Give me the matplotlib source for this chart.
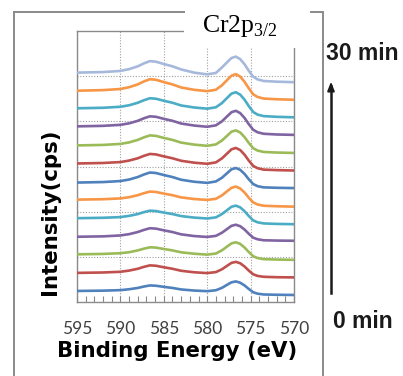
import matplotlib
matplotlib.use("Agg")
import matplotlib.pyplot as plt
from matplotlib.lines import Line2D
from matplotlib.patches import Rectangle

# Binding energy grid (eV)
energy = [595, 592, 590, 589, 588, 587.3, 586.6, 585.9, 585, 584, 583, 581.5, 580,
          579, 578.3, 577.7, 577.2, 576.7, 576.2, 575.7, 575.2, 574.7, 574.2, 573.5, 572, 570]

# Stacked Cr2p spectra (arbitrary intensity units, offset), 0 min (bottom) ... 30 min (top)
s01 = [11, 11.3, 11.8, 12.7, 14.0, 15.4, 16.5, 16.2, 15.1, 14.0, 12.5, 11.4, 10.8,
       11.7, 14.1, 17.2, 19.6, 20.5, 19.2, 16.5, 12.9, 9.7, 8.3, 7.5, 7.2, 7.0]
s02 = [29, 29.4, 30.1, 31.3, 33.1, 35.0, 36.5, 36.1, 34.6, 33.1, 31.1, 29.6, 28.8,
       29.8, 32.6, 36.1, 39.0, 40.0, 38.6, 35.4, 31.2, 27.6, 26.0, 25.1, 24.7, 24.5]
s03 = [47.5, 47.9, 48.6, 49.6, 51.4, 53.1, 54.5, 54.2, 52.8, 51.4, 49.5, 48.1, 47.2,
       48.3, 51.5, 55.3, 58.4, 59.5, 57.9, 54.3, 49.7, 45.6, 43.8, 42.7, 42.3, 42.0]
s04 = [65, 65.4, 66.3, 67.6, 69.7, 71.8, 73.5, 73.1, 71.4, 69.7, 67.4, 65.7, 64.8,
       65.9, 69.0, 72.8, 75.9, 77.0, 75.5, 72.2, 67.9, 64.1, 62.5, 61.5, 61.2, 61.0]
s05 = [83.5, 83.9, 84.6, 85.8, 87.6, 89.5, 91.0, 90.6, 89.1, 87.6, 85.6, 84.1, 83.2,
       84.3, 87.6, 91.6, 94.9, 96.0, 94.3, 90.5, 85.6, 81.3, 79.4, 78.3, 77.8, 77.5]
s06 = [102, 102.4, 103.2, 104.4, 106.4, 108.4, 110.0, 109.6, 108.0, 106.4, 104.2, 102.6, 101.7,
       102.8, 106.2, 110.4, 113.8, 115.0, 113.1, 109.1, 103.8, 99.2, 97.2, 95.9, 95.4, 95.0]
s07 = [119, 119.5, 120.5, 122.0, 124.5, 127.0, 129.0, 128.5, 126.5, 124.5, 121.8, 119.8, 118.7,
       120.1, 123.8, 128.4, 132.2, 133.5, 131.7, 127.6, 122.2, 117.5, 115.4, 114.2, 113.8, 113.5]
s08 = [138, 138.5, 139.4, 140.9, 143.2, 145.6, 147.5, 147.0, 145.1, 143.2, 140.7, 138.8, 137.7,
       139.1, 143.1, 148.0, 152.1, 153.5, 151.4, 146.8, 140.8, 135.6, 133.3, 131.9, 131.4, 131.0]
s09 = [156, 156.5, 157.5, 159.0, 161.5, 164.0, 166.0, 165.5, 163.5, 161.5, 158.8, 156.8, 155.6,
       157.0, 160.9, 165.7, 169.7, 171.0, 168.9, 164.3, 158.4, 153.2, 150.9, 149.5, 148.9, 148.5]
s10 = [175, 175.5, 176.5, 178.0, 180.5, 183.0, 185.0, 184.5, 182.5, 180.5, 177.8, 175.8, 174.6,
       176.0, 180.0, 185.0, 189.1, 190.5, 188.2, 183.4, 177.1, 171.6, 169.1, 167.6, 166.9, 166.5]
s11 = [193, 193.5, 194.5, 196.0, 198.5, 201.0, 203.0, 202.5, 200.5, 198.5, 195.8, 193.8, 192.6,
       194.0, 198.2, 203.4, 207.6, 209.0, 206.6, 201.6, 195.1, 189.3, 186.7, 185.2, 184.5, 184.0]
s12 = [210.5, 211.1, 212.2, 214.0, 216.8, 219.7, 222.0, 221.4, 219.1, 216.8, 213.7, 211.4, 210.1,
       211.5, 215.9, 221.2, 225.5, 227.0, 224.6, 219.4, 212.8, 206.9, 204.3, 202.7, 202.0, 201.5]
s13 = [228.5, 229.1, 230.2, 232.0, 234.8, 237.7, 240.0, 239.4, 237.1, 234.8, 231.7, 228.5, 226.8,
       228.2, 233.7, 238.9, 243.1, 244.5, 242.0, 236.9, 230.3, 224.5, 221.8, 220.2, 219.5, 219.0]
spectra = [s01, s02, s03, s04, s05, s06, s07, s08, s09, s10, s11, s12, s13]

colors = ["#4F81BD", "#C0504D", "#9BBB59", "#8064A2", "#4BACC6", "#F79646",
          "#4F81BD", "#C0504D", "#9BBB59", "#8064A2", "#4BACC6", "#F79646", "#A6B9DC"]

xticks = [595, 590, 585, 580, 575, 570]
xtick_labels = ["595", "590", "585", "580", "575", "570"]

W, H = 403, 376
fig = plt.figure(figsize=(W / 100, H / 100), dpi=100)

def fx(px):
    return px / W

def fy(py):
    return 1 - py / H

ax = fig.add_axes([fx(77), fy(302), fx(294) - fx(77), fy(31) - fy(302)])
for s, c in zip(spectra, colors):
    ax.plot(energy, s, color=c, lw=1.9, solid_joinstyle="round", solid_capstyle="butt", zorder=3)

ax.set_xlim(595, 570)
ax.set_ylim(0, 270)
ax.set_xticks(xticks)
ax.set_xticklabels(xtick_labels, fontfamily="Lato", fontsize=12.5, color="#404040")
ax.set_xticks(list(range(570, 596)), minor=True)
ax.set_yticks([45, 90, 135, 180, 225])
ax.set_yticklabels([])
ax.tick_params(axis="y", length=0)
ax.tick_params(axis="x", which="both", direction="in", length=4, width=0.8, color="#888888", pad=14)
ax.grid(True, which="major", ls=(0, (1, 1.5)), color="#A0A0A0", lw=0.8, zorder=0)
for sp in ax.spines.values():
    sp.set_color("#8A8A8A")
    sp.set_linewidth(1.0)

fig.text(fx(177), fy(357), "Binding Energy (eV)", fontfamily="DejaVu Sans", fontweight="bold",
         fontsize=15.3, ha="center", va="baseline")
fig.text(fx(56), fy(212), "Intensity(cps)", fontfamily="DejaVu Sans", fontweight="bold",
         fontsize=15.3, ha="center", va="baseline", rotation=90, rotation_mode="anchor")

# outer frame
frame_c = "#8A8A8A"
fig.add_artist(Line2D([fx(14), fx(14)], [fy(12), 0], color=frame_c, lw=1.4))
fig.add_artist(Line2D([fx(14), fx(184)], [fy(12), fy(12)], color=frame_c, lw=1.4))
fig.add_artist(Line2D([fx(311), fx(323)], [fy(12), fy(12)], color=frame_c, lw=1.4))
fig.add_artist(Line2D([fx(323), fx(323)], [fy(12), 0], color=frame_c, lw=1.4))

# white label box covering the top-right of the plot
fig.add_artist(Rectangle((fx(184), fy(48)), fx(311) - fx(184), fy(13) - fy(48),
                         facecolor="white", edgecolor="none", zorder=10))
plt.rcParams["mathtext.fontset"] = "custom"
plt.rcParams["mathtext.rm"] = "Liberation Serif"
fig.text(fx(202), fy(32), r"Cr2p$_{\mathregular{3/2}}$", fontfamily="Liberation Serif",
         fontsize=18.5, ha="left", va="baseline", zorder=11)

# time arrow and labels
fig.add_artist(Line2D([fx(331), fx(331)], [fy(293), fy(86)], color="#1A1A1A", lw=1.8, zorder=11))
ax.annotate("", xy=(fx(331), fy(79)), xytext=(fx(331), fy(90)), xycoords="figure fraction",
            textcoords="figure fraction",
            arrowprops=dict(arrowstyle="-|>,head_length=0.5,head_width=0.2", color="#1A1A1A", lw=1.5))
fig.text(fx(362), fy(54), "30 min", fontfamily="Liberation Sans", fontweight="bold",
         fontsize=16.5, ha="center", va="center", color="#1A1A1A")
fig.text(fx(363), fy(321), "0 min", fontfamily="Liberation Sans", fontweight="bold",
         fontsize=16.5, ha="center", va="center", color="#1A1A1A")

fig.savefig("out.png", dpi=100, facecolor="white")
